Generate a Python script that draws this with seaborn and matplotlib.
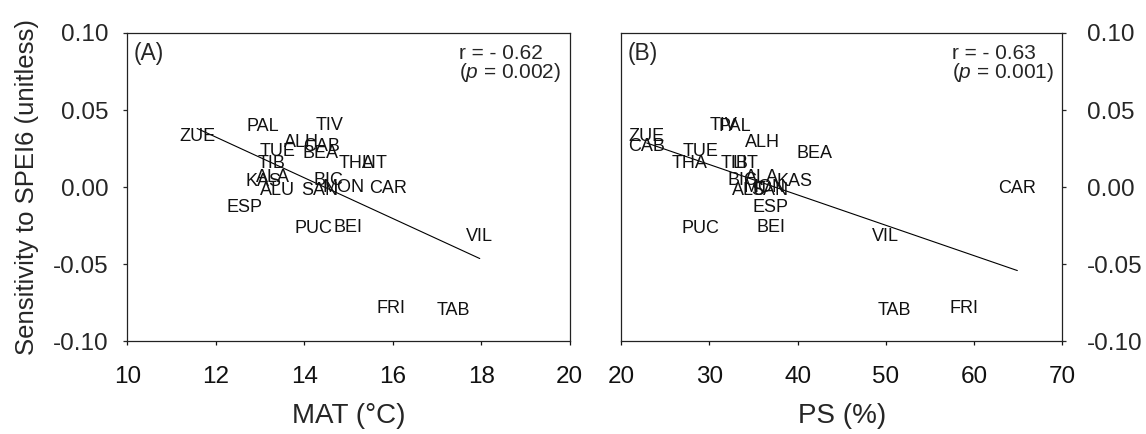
import numpy as np
import pandas as pd
import matplotlib
matplotlib.use("Agg")
import matplotlib.pyplot as plt
import seaborn as sns

sns.set_style("white")
plt.rcParams["font.family"] = ["Liberation Sans", "DejaVu Sans"]
plt.rcParams["mathtext.fontset"] = "custom"
plt.rcParams["mathtext.rm"] = "Liberation Sans"
plt.rcParams["mathtext.it"] = "Liberation Sans:italic"
plt.rcParams["axes.unicode_minus"] = False

# ---- Data ----
sites = ["ZUE", "PAL", "TIV", "ALH", "CAB", "TUE", "BEA", "THA", "LIT", "TIB",
         "ALA", "KAS", "ALU", "SAN", "BIC", "MON", "CAR", "ESP", "PUC", "BEI",
         "VIL", "FRI", "TAB"]
mat = [11.58, 13.07, 14.58, 13.95, 14.40, 13.39, 14.36, 15.19, 15.58, 13.27,
       13.30, 13.09, 13.39, 14.36, 14.54, 14.88, 15.89, 12.66, 14.20, 14.99,
       17.97, 15.96, 17.38]
ps = [22.9, 32.9, 31.6, 36.0, 22.9, 29.0, 41.9, 27.8, 34.1, 32.9,
      36.0, 39.7, 34.5, 36.9, 33.8, 36.3, 64.9, 36.9, 29.0, 37.0,
      49.9, 58.8, 51.0]
sens = [0.033, 0.039, 0.040, 0.029, 0.026, 0.023, 0.022, 0.015, 0.015, 0.015,
        0.0065, 0.0035, -0.0025, -0.0025, 0.004, -0.0005, -0.001, -0.013, -0.027, -0.026,
        -0.032, -0.079, -0.080]

df = pd.DataFrame({"site": sites, "MAT": mat, "PS": ps, "sens": sens})

panels = [
    ("MAT", "MAT (°C)", (10, 20), np.arange(10, 21, 2), "(A)", "r = - 0.62", "0.002"),
    ("PS", "PS (%)", (20, 70), np.arange(20, 71, 10), "(B)", "r = - 0.63", "0.001"),
]

fig = plt.figure(figsize=(11.46, 4.34), dpi=100)
ax_a = fig.add_axes([0.111, 0.214, 0.386, 0.710])
ax_b = fig.add_axes([0.542, 0.214, 0.385, 0.710])

for ax, (col, xlab, xlim, xt, tag, rtxt, ptxt) in zip([ax_a, ax_b], panels):
    sns.regplot(data=df, x=col, y="sens", ax=ax, scatter=False, ci=None,
                truncate=True, line_kws={"color": "black", "lw": 0.8})
    for _, row in df.iterrows():
        ax.text(row[col], row["sens"], row["site"], ha="center", va="center",
                fontsize=13, color="#111111")
    ax.set_xlim(*xlim)
    ax.set_ylim(-0.10, 0.10)
    ax.set_xticks(xt)
    ax.set_yticks(np.arange(-0.10, 0.101, 0.05))
    ax.yaxis.set_major_formatter(matplotlib.ticker.FormatStrFormatter("%.2f"))
    ax.set_xlabel(xlab, fontsize=20, labelpad=11)
    ax.text(0.014, 0.935, tag, transform=ax.transAxes, fontsize=16.5,
            ha="left", va="center")
    ax.text(0.75, 0.935, rtxt, transform=ax.transAxes, fontsize=15,
            ha="left", va="center")
    ax.text(0.75, 0.873, "($\\it{p}$ = " + ptxt + ")", transform=ax.transAxes,
            fontsize=15, ha="left", va="center")
    for s in ax.spines.values():
        s.set_color("#222222")
        s.set_linewidth(0.9)
    ax.tick_params(axis="x", direction="out", length=3, width=0.9,
                   labelsize=17.5, pad=15, bottom=True, colors="#111111")

ax_a.set_ylabel("Sensitivity to SPEI6 (unitless)", fontsize=18.5, labelpad=10)
ax_a.tick_params(axis="y", direction="out", length=3, width=0.9,
                 labelsize=17.5, pad=10.5, left=True, right=False)
ax_b.set_ylabel("")
ax_b.yaxis.tick_right()
ax_b.tick_params(axis="y", direction="out", length=3, width=0.9,
                 labelsize=17.5, pad=14.5, left=False, right=True,
                 labelleft=False, labelright=True)

fig.savefig("out.png", dpi=100)
